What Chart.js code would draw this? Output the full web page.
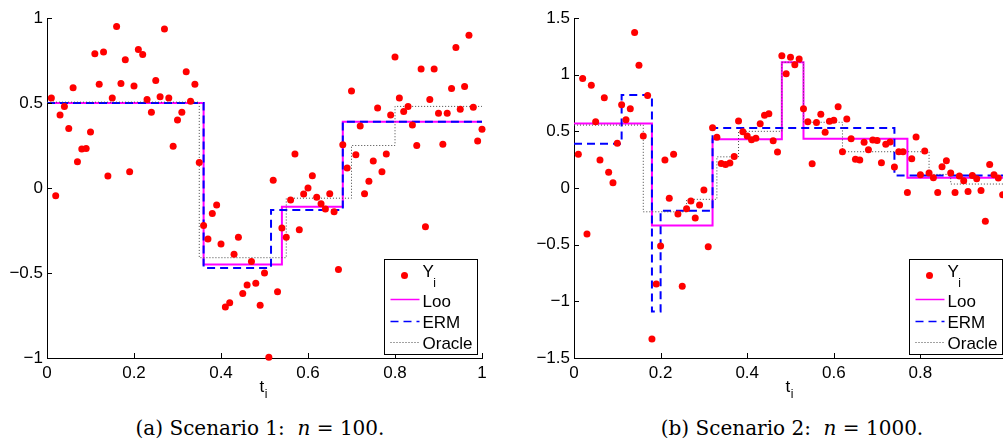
<!DOCTYPE html>
<html>
<head>
<meta charset="utf-8">
<script src="https://cdn.jsdelivr.net/npm/chart.js@4.4.0/dist/chart.umd.min.js"></script>
<style>
  html, body { margin: 0; padding: 0; background: #fff; overflow: hidden; width: 1003px; height: 441px; }
  canvas { position: absolute; top: 0; }
  #chartA { left: 0; }
  #chartB { left: 527px; }
  .cap { position: absolute; top: 418px; width: 400px; text-align: center; white-space: nowrap;
         font-family: "DejaVu Serif", serif; font-size: 20px; line-height: 20px; color: #000; }
  .cap i { font-style: italic; }
</style>
</head>
<body>
<canvas id="chartA" width="500" height="400"></canvas>
<canvas id="chartB" width="499" height="400"></canvas>
<div class="cap" style="left:60px">(a) Scenario 1:&nbsp; <i>n</i> = 100.</div>
<div class="cap" style="left:592px">(b) Scenario 2:&nbsp; <i>n</i> = 1000.</div>
<script>
// observation grid: 100 points shown per panel, t_i = i/100
const tGrid = Array.from({ length: 100 }, (_, i) => (i + 1) / 100);

// Scenario 1 observations Y_i
const yScen1 = [
  0.53, -0.045, 0.43, 0.48, 0.35, 0.59, 0.155, 0.23, 0.233, 0.33,
  0.79, 0.61, 0.80, 0.07, 0.53, 0.95, 0.615, 0.755, 0.096, 0.60,
  0.815, 0.785, 0.52, 0.445, 0.633, 0.537, 0.935, 0.53, 0.245, 0.40,
  0.445, 0.684, 0.51, 0.61, 0.15, -0.22, -0.30, -0.15, -0.10, -0.33,
  -0.70, -0.675, -0.39, -0.29, -0.62, -0.57, -0.433, -0.56, -0.69, -0.50,
  -0.995, 0.045, -0.61, -0.235, -0.29, -0.07, 0.20, -0.245, -0.035, 0.0,
  0.072, -0.055, -0.092, -0.124, -0.034, -0.14, -0.48, 0.255, 0.118, 0.57,
  0.196, 0.365, -0.034, 0.04, 0.159, 0.47, 0.096, 0.20, 0.43, 0.77,
  0.53, 0.45, 0.48, 0.37, 0.25, 0.70, -0.228, 0.52, 0.70, 0.44,
  0.257, 0.44, 0.585, 0.827, 0.463, 0.597, 0.898, 0.475, 0.277, 0.345
];

// Scenario 2 observations Y_i (every 10th of n = 1000)
const yScen2 = [
  0.297, 0.967, -0.406, 0.906, 0.585, 0.247, 0.797, 0.138, 0.047, 0.394,
  0.735, 0.603, 0.70, 1.371, 1.082, 0.459, 0.817, -1.333, -0.847, -0.512,
  0.247, -0.09, 0.297, -0.23, -0.868, -0.183, -0.115, -0.265, -0.15, -0.018,
  -0.518, 0.532, 0.447, 0.217, 0.208, 0.22, 0.279, 0.591, 0.497, 0.459,
  0.425, 0.438, 0.567, 0.641, 0.656, 0.417, 0.318, 1.168, 1.009, 1.153,
  1.088, 1.138, 0.70, 0.585, 0.214, 0.579, 0.65, 0.491, 0.588, 0.597,
  0.718, 0.32, 0.609, 0.435, 0.253, 0.247, 0.403, 0.338, 0.424, 0.42,
  0.223, 0.385, 0.406, 0.185, 0.32, 0.32, -0.039, 0.259, 0.45, 0.117,
  0.326, 0.132, 0.091, -0.039, 0.188, 0.241, 0.132, -0.039, 0.106, 0.064,
  -0.03, 0.111, 0.082, -0.021, -0.294, 0.208, 0.117, 0.088, -0.059, 0.05
];

// piecewise constant estimators: breakpoints and level held until next break
const looBreaks1 = [0, 0.36, 0.54, 0.68, 1];
const looLevels1 = [0.5, -0.45, -0.11, 0.39, 0.39];
const ermBreaks1 = [0, 0.36, 0.515, 0.68, 1];
const ermLevels1 = [0.5, -0.47, -0.13, 0.39, 0.39];
const oraBreaks1 = [0, 0.35, 0.55, 0.70, 0.80, 1];
const oraLevels1 = [0.505, -0.41, -0.06, 0.25, 0.48, 0.48];

const looBreaks2 = [0, 0.18, 0.32, 0.48, 0.53, 0.77, 1];
const looLevels2 = [0.57, -0.33, 0.43, 1.11, 0.435, 0.09, 0.09];
const ermBreaks2 = [0, 0.11, 0.18, 0.20, 0.32, 0.74, 1];
const ermLevels2 = [0.39, 0.82, -1.09, -0.2, 0.53, 0.11, 0.11];
const oraBreaks2 = [0, 0.16, 0.26, 0.33, 0.38, 0.48, 0.53, 0.62, 0.82, 0.87, 1];
const oraLevels2 = [0.555, -0.21, -0.1, 0.275, 0.5, 1.11, 0.58, 0.32, 0.12, 0.035, 0.035];

const xTickStep = 0.2;
const FONT = 'Liberation Sans';

const toSteps = (breaks, levels) => breaks.map((b, k) => ({ x: b, y: levels[k] }));

//Function formats tick values with a real minus sign
const fmtTick = (v) => {
  const n = parseFloat(Number(v).toFixed(2));
  return String(n).replace('-', '\u2212');
};

//Plugin draws the matlab-style inward ticks, axis title and boxed legend
const matlabLook = {
  id: 'matlabLook',
  afterDraw(chart) {
    const ctx = chart.ctx;
    const area = chart.chartArea;
    const xs = chart.scales.x, ys = chart.scales.y;
    ctx.save();
    ctx.strokeStyle = '#000';
    ctx.lineWidth = 1;
    ctx.beginPath();
    xs.ticks.forEach((t) => {
      const px = Math.round(xs.getPixelForValue(t.value)) + 0.5;
      ctx.moveTo(px, area.bottom);
      ctx.lineTo(px, area.bottom - 5);
    });
    ys.ticks.forEach((t) => {
      const py = Math.round(ys.getPixelForValue(t.value)) + 0.5;
      ctx.moveTo(area.left, py);
      ctx.lineTo(area.left + 5, py);
    });
    ctx.stroke();

    // x axis title t_i
    ctx.fillStyle = '#000';
    ctx.textBaseline = 'alphabetic';
    ctx.textAlign = 'left';
    const cx = (area.left + area.right) / 2 - 5;
    ctx.font = '17px "' + FONT + '"';
    ctx.fillText('t', cx, area.bottom + 34);
    const tw = ctx.measureText('t').width;
    ctx.font = '12px "' + FONT + '"';
    ctx.fillText('i', cx + tw + 0.5, area.bottom + 40);

    // legend box
    const bw = 93, bh = 95;
    const bx = Math.round(area.right - 5 - bw) + 0.5;
    const by = Math.round(area.bottom - 4 - bh) + 0.5;
    ctx.fillStyle = '#fff';
    ctx.fillRect(bx, by, bw, bh);
    ctx.strokeStyle = '#000';
    ctx.lineWidth = 1;
    ctx.strokeRect(bx, by, bw, bh);

    const rows = [16, 40, 62, 83];
    const baselines = [17.7, 47, 68, 89.5];
    chart.data.datasets.forEach((ds, k) => {
      const ry = by + rows[k];
      if (ds.showLine === false) {
        ctx.fillStyle = ds.pointBackgroundColor;
        ctx.beginPath();
        ctx.arc(bx + 20, ry, 3.5, 0, Math.PI * 2);
        ctx.fill();
      } else {
        ctx.strokeStyle = ds.borderColor;
        ctx.lineWidth = ds.borderWidth > 1 ? 1.5 : 1;
        ctx.setLineDash(ds.borderDash || []);
        ctx.beginPath();
        ctx.moveTo(bx + 6, ry);
        ctx.lineTo(bx + 35, ry);
        ctx.stroke();
        ctx.setLineDash([]);
      }
      ctx.fillStyle = '#000';
      ctx.font = '17px "' + FONT + '"';
      ctx.fillText(ds.label, bx + 38, by + baselines[k]);
      if (ds.sub) {
        const lw = ctx.measureText(ds.label).width;
        ctx.font = '12px "' + FONT + '"';
        ctx.fillText(ds.sub, bx + 38 + lw - 0.5, by + 27);
      }
    });
    ctx.restore();
  }
};

//Function makes a chart config for one scenario panel
const makeConfig = (yVals, steps, yMin, yMax, rightPad) => ({
  type: 'line',
  data: {
    datasets: [
      {
        label: 'Y', sub: 'i',
        data: tGrid.map((t, i) => ({ x: t, y: yVals[i] })),
        showLine: false, pointRadius: 3.5, pointBackgroundColor: '#ff0000',
        pointBorderWidth: 0, borderColor: '#ff0000', order: 0, clip: false
      },
      {
        label: 'Loo', data: toSteps(steps.looB, steps.looL), stepped: true,
        borderColor: '#ff00ff', borderWidth: 2, pointRadius: 0, order: 3
      },
      {
        label: 'ERM', data: toSteps(steps.ermB, steps.ermL), stepped: true,
        borderColor: '#0000ff', borderWidth: 2, borderDash: [8, 5], pointRadius: 0, order: 2
      },
      {
        label: 'Oracle', data: toSteps(steps.oraB, steps.oraL), stepped: true,
        borderColor: '#444444', borderWidth: 1, borderDash: [1, 2], pointRadius: 0, order: 1
      }
    ]
  },
  options: {
    responsive: false,
    animation: false,
    events: [],
    layout: { padding: { left: 0, right: rightPad, top: 18, bottom: 2 } },
    plugins: { legend: { display: false }, tooltip: { enabled: false } },
    scales: {
      x: {
        type: 'linear', min: 0, max: 1,
        ticks: { stepSize: xTickStep, padding: 5, color: '#000', maxRotation: 0, autoSkip: false,
                 font: { family: FONT, size: 17 }, callback: fmtTick },
        grid: { drawOnChartArea: false, drawTicks: false },
        border: { color: '#000', width: 1 },
        afterFit: (s) => { s.height = 40; }
      },
      y: {
        type: 'linear', min: yMin, max: yMax,
        ticks: { stepSize: 0.5, padding: 4, color: '#000', autoSkip: false,
                 font: { family: FONT, size: 17 }, callback: fmtTick },
        grid: { drawOnChartArea: false, drawTicks: false },
        border: { color: '#000', width: 1 },
        afterFit: (s) => { s.width = 47; }
      }
    }
  },
  plugins: [matlabLook]
});

new Chart(document.getElementById('chartA'), makeConfig(yScen1, {
  looB: looBreaks1, looL: looLevels1, ermB: ermBreaks1, ermL: ermLevels1, oraB: oraBreaks1, oraL: oraLevels1
}, -1, 1, 18));

new Chart(document.getElementById('chartB'), makeConfig(yScen2, {
  looB: looBreaks2, looL: looLevels2, ermB: ermBreaks2, ermL: ermLevels2, oraB: oraBreaks2, oraL: oraLevels2
}, -1.5, 1.5, 19));
</script>
</body>
</html>
